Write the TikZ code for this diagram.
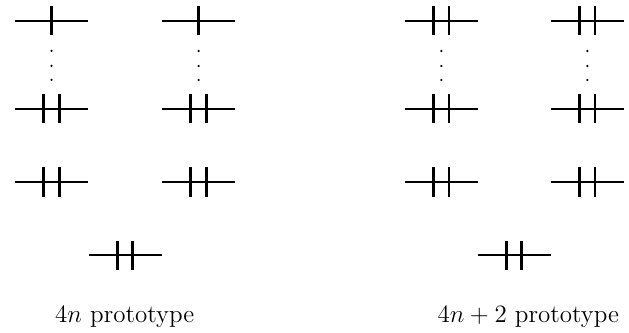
\documentclass[tikz,border=0pt]{standalone}
\begin{document}
\begin{tikzpicture}[x=0.48pt,y=-0.48pt,
  wire/.style={line width=1pt},
  tickmark/.style={line width=1.3pt},
  dotmark/.style={fill=black},
  caption/.style={font=\fontsize{12}{14}\selectfont, anchor=base, inner sep=0pt},
  pics/onetick/.style={code={
    \draw[wire] (-36.5,0) -- (36.5,0);
    \draw[tickmark] (0,-14.5) -- (0,14.5);}},
  pics/twotick/.style={code={
    \draw[wire] (-36.5,0) -- (36.5,0);
    \draw[tickmark] (-7.65,-14.5) -- (-7.65,14.5);
    \draw[tickmark] (7.65,-14.5) -- (7.65,14.5);}},
  pics/vdotsmark/.style={code={
    \fill[dotmark] (0,51) circle (0.6pt);
    \fill[dotmark] (0,66) circle (0.6pt);
    \fill[dotmark] (0,80) circle (0.6pt);}}
]
\useasboundingbox (0,0) rectangle (629,333);
% left group: 4n prototype
\pic (a1) at (51.5,21) {onetick};
\pic (a2) at (51.5,109) {twotick};
\pic (a3) at (51.5,182) {twotick};
\pic (b1) at (198.5,21) {onetick};
\pic (b2) at (198.5,109) {twotick};
\pic (b3) at (198.5,182) {twotick};
\pic (c) at (125,255.3) {twotick};
\pic (ad) at (51.5,0) {vdotsmark};
\pic (bd) at (198.5,0) {vdotsmark};
\node[caption] (labA) at (124.7,322.7) {$4n$ prototype};
% right group: 4n+2 prototype
\pic (d1) at (441.3,21) {twotick};
\pic (d2) at (441.3,109) {twotick};
\pic (d3) at (441.3,182) {twotick};
\pic (e1) at (587.3,21) {twotick};
\pic (e2) at (587.3,109) {twotick};
\pic (e3) at (587.3,182) {twotick};
\pic (f) at (514,255.3) {twotick};
\pic (dd) at (441.3,0) {vdotsmark};
\pic (ed) at (587.3,0) {vdotsmark};
\node[caption] (labB) at (528.3,322.7) {$4n+2$ prototype};
\end{tikzpicture}
\end{document}
